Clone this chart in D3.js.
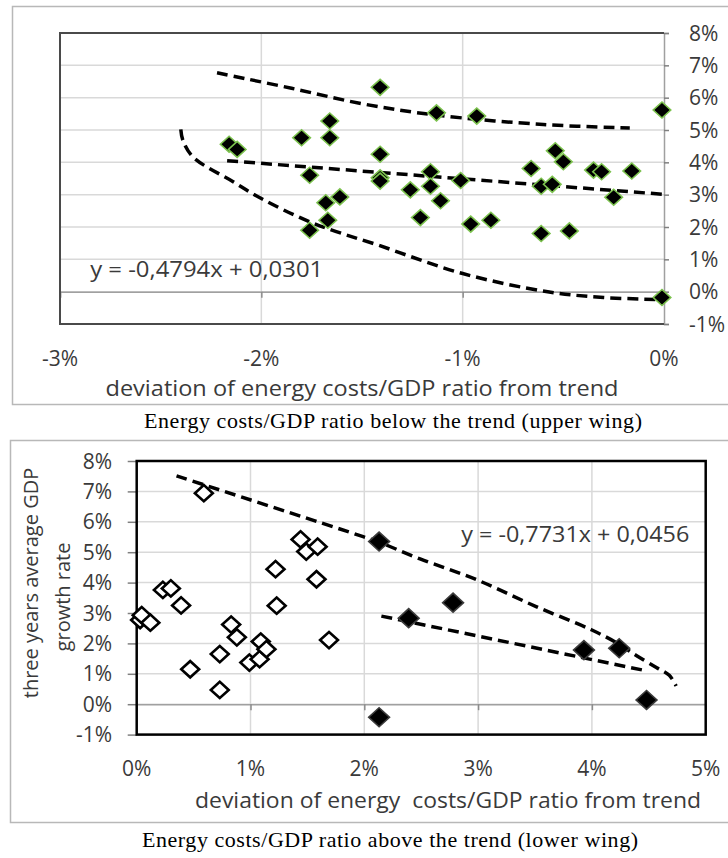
<!DOCTYPE html>
<html>
<head>
<meta charset="utf-8">
<script src="https://cdn.jsdelivr.net/npm/d3@7"></script>
<style>
  body { margin: 0; background: #fff; }
  svg text { font-family: "Open Sans", "Lato", sans-serif; fill: #3a3a3a; }
  svg text.caption { font-family: "Liberation Serif", "Times New Roman", serif; fill: #000; font-weight: normal; }
</style>
</head>
<body>
<svg id="chart" width="728" height="858"></svg>
<script>
var d3;

/* ===== DATA (all values in %) ===== */

// upper wing: energy costs/GDP ratio below trend
var upperDevX = [-2.16, -2.12, -1.80, -1.66, -1.66, -1.76, -1.61, -1.68, -1.67, -1.76,
                 -1.41, -1.13, -0.93, -0.01, -1.41, -1.41, -1.41, -1.26, -1.16, -1.16,
                 -1.11, -1.21, -1.01, -0.96, -0.86, -0.66, -0.61, -0.555, -0.54, -0.50,
                 -0.35, -0.31, -0.16, -0.25, -0.61, -0.47, -0.01];
var upperGrowth = [4.56, 4.40, 4.76, 5.28, 4.76, 3.60, 2.93, 2.75, 2.21, 1.90,
                   6.32, 5.53, 5.43, 5.62, 4.25, 3.52, 3.42, 3.15, 3.71, 3.26,
                   2.81, 2.29, 3.44, 2.09, 2.21, 3.81, 3.26, 3.32, 4.36, 4.02,
                   3.76, 3.71, 3.73, 2.92, 1.80, 1.88, -0.18];

// envelope curves drawn by hand over the upper wing
var upperHighX = [-2.22, -1.85, -1.49, -1.13, -0.60, -0.17];
var upperHighY = [6.77, 6.29, 5.80, 5.46, 5.17, 5.06];
var upperLowX = [-2.40, -2.39, -2.34, -2.14, -2.00, -1.74, -1.42, -1.00, -0.57, -0.30, -0.04];
var upperLowY = [5.02, 4.69, 4.17, 3.40, 2.88, 2.11, 1.44, 0.56, -0.01, -0.18, -0.24];

// linear trend y = a*x + b (fractions), and its x range in %
var upperTrend = [-0.4794, 0.0301];
var upperTrendRange = [-2.17, 0];

// lower wing: energy costs/GDP ratio above trend
var lowerOpenX = [0.03, 0.044, 0.12, 0.23, 0.30, 0.39, 0.47, 0.59, 0.73, 0.73, 0.83, 0.88,
                  0.99, 1.08, 1.09, 1.14, 1.22, 1.23, 1.44, 1.49, 1.59, 1.58, 1.69];
var lowerOpenY = [2.77, 2.93, 2.68, 3.76, 3.81, 3.25, 1.15, 6.94, 1.65, 0.47, 2.62, 2.20,
                  1.37, 1.48, 2.06, 1.81, 4.44, 3.24, 5.42, 5.02, 5.18, 4.11, 2.11];
var lowerFilledX = [2.13, 2.39, 2.78, 3.93, 4.24, 4.48, 2.13];
var lowerFilledY = [5.35, 2.83, 3.34, 1.78, 1.84, 0.14, -0.43];

var lowerEnvX = [0.35, 1.99, 2.13, 2.49, 2.99, 3.51, 4.00, 4.24, 4.39, 4.57, 4.68, 4.74];
var lowerEnvY = [7.51, 5.51, 5.33, 4.78, 4.09, 3.21, 2.44, 1.97, 1.60, 1.20, 0.95, 0.60];

var lowerTrend = [-0.7731, 0.0456];
var lowerTrendRange = [2.15, 4.48];

// ticks
var growthTicks = [-1, 0, 1, 2, 3, 4, 5, 6, 7, 8];
var upperXTicks = [-3, -2, -1, 0];
var lowerXTicks = [0, 1, 2, 3, 4, 5];

var upperEquation = "y = -0,4794x + 0,0301";
var lowerEquation = "y = -0,7731x + 0,0456";
var xTitleUpper = "deviation of energy costs/GDP ratio from trend";
var xTitleLower = "deviation of energy  costs/GDP ratio from trend";
var yTitleLower = ["three years average GDP", "growth rate"];
var captionUpper = "Energy costs/GDP ratio below the trend (upper wing)";
var captionLower = "Energy costs/GDP ratio above the trend (lower wing)";

/* ===== SET UP ===== */

var svg = d3.select('#chart');
var pct = function(d) { return d + '%'; };
var diamond = d3.symbol().type(d3.symbolSquare);

function toPoints(xs, ys) {
  return xs.map(function(x, i) { return [x, ys[i]]; });
}

function trendPoints(coef, range) {
  return range.map(function(x) { return [x, coef[0] * x + coef[1] * 100]; });
}

function drawPanel(p) {
  var x = d3.scaleLinear().domain(p.xDomain).range([p.left, p.right]);
  var y = d3.scaleLinear().domain([-1, 8]).range([p.bottom, p.top]);
  var g = svg.append('g');

  // outer frame
  g.append('rect')
    .attr('x', p.frame[0] + 0.5).attr('y', p.frame[1] + 0.5)
    .attr('width', p.frame[2]).attr('height', p.frame[3])
    .attr('fill', 'none').attr('stroke', '#b8b8b8').attr('stroke-width', 1.5);

  // gridlines
  g.append('g').selectAll('line')
    .data(growthTicks)
    .enter().append('line')
    .attr('x1', p.left).attr('x2', p.right)
    .attr('y1', function(d) { return y(d); }).attr('y2', function(d) { return y(d); })
    .attr('stroke', '#d9d9d9').attr('stroke-width', 1.5);

  g.append('g').selectAll('line')
    .data(p.xTicks.slice(1, -1))
    .enter().append('line')
    .attr('x1', function(d) { return x(d); }).attr('x2', function(d) { return x(d); })
    .attr('y1', p.top).attr('y2', p.bottom)
    .attr('stroke', '#d9d9d9').attr('stroke-width', 1.5);

  // x axis crossing at 0%
  var xAxis = d3.axisBottom(x).tickValues(p.xTicks).tickSize(6).tickFormat('');
  var xa = g.append('g')
    .attr('transform', 'translate(0,' + y(0) + ')')
    .call(xAxis);
  xa.select('.domain').attr('stroke', '#a0a0a0').attr('stroke-width', 1.5);
  xa.selectAll('.tick line').attr('stroke', '#8c8c8c').attr('stroke-width', 1.5);

  // y axis
  var yAxis = (p.yRight ? d3.axisRight(y) : d3.axisLeft(y))
    .tickValues(growthTicks).tickSize(p.yRight ? 5 : 9).tickFormat('');
  var ya = g.append('g')
    .attr('transform', 'translate(' + (p.yRight ? p.right : p.left) + ',0)')
    .call(yAxis);
  ya.select('.domain').attr('stroke', p.yRight ? '#a0a0a0' : 'none').attr('stroke-width', 1.5);
  ya.selectAll('.tick line').attr('stroke', '#808080').attr('stroke-width', 1.5);

  // plot border
  if (p.yRight) {
    g.append('path')
      .attr('d', 'M' + p.right + ',' + p.top + 'H' + p.left + 'V' + p.bottom + 'H' + p.right)
      .attr('fill', 'none').attr('stroke', '#4a4a4a').attr('stroke-width', 2);
  } else {
    g.append('rect')
      .attr('x', p.left).attr('y', p.top)
      .attr('width', p.right - p.left).attr('height', p.bottom - p.top)
      .attr('fill', 'none').attr('stroke', '#000').attr('stroke-width', 2.5);
  }

  // tick labels
  g.append('g').selectAll('text')
    .data(growthTicks)
    .enter().append('text')
    .attr('x', p.yLabelX)
    .attr('y', function(d) { return y(d); })
    .attr('dy', '0.36em')
    .attr('text-anchor', p.yRight ? 'start' : 'end')
    .style('font-size', p.fontSize + 'px')
    .text(pct);

  g.append('g').selectAll('text')
    .data(p.xTicks)
    .enter().append('text')
    .attr('x', function(d) { return x(d); })
    .attr('y', p.xLabelY)
    .attr('text-anchor', 'middle')
    .style('font-size', p.fontSize + 'px')
    .text(pct);

  // axis title
  g.append('text')
    .attr('x', p.xTitle[0]).attr('y', p.xTitle[1])
    .attr('text-anchor', 'middle')
    .attr('textLength', p.xTitle[2]).attr('lengthAdjust', 'spacingAndGlyphs')
    .style('font-size', p.fontSize + 'px')
    .style('white-space', 'pre')
    .text(p.xTitleText);

  // equation
  g.append('text')
    .attr('x', x(p.eqAt[0])).attr('y', y(p.eqAt[1]))
    .attr('textLength', p.eqAt[2]).attr('lengthAdjust', 'spacingAndGlyphs')
    .style('font-size', p.fontSize + 'px')
    .text(p.eqText);

  // dashed curves
  var line = d3.line()
    .x(function(d) { return x(d[0]); })
    .y(function(d) { return y(d[1]); });

  p.curves.forEach(function(c) {
    g.append('path')
      .attr('d', line.curve(d3.curveCatmullRom.alpha(0.5))(c))
      .attr('fill', 'none').attr('stroke', '#000')
      .attr('stroke-width', 3.5).attr('stroke-dasharray', '11,6');
  });

  g.append('path')
    .attr('d', line.curve(d3.curveLinear)(p.trend))
    .attr('fill', 'none').attr('stroke', '#000')
    .attr('stroke-width', 3.5).attr('stroke-dasharray', '11,6');

  // markers
  p.markers.forEach(function(m) {
    g.append('g').selectAll('path')
      .data(m.points)
      .enter().append('path')
      .attr('d', diamond.size(m.size)())
      .attr('transform', function(d) {
        return 'translate(' + x(d[0]) + ',' + y(d[1]) + ') scale(1.1,1) rotate(45)';
      })
      .attr('fill', m.fill)
      .attr('stroke', m.stroke)
      .attr('stroke-width', m.strokeWidth);
  });

  // caption
  svg.append('text')
    .attr('class', 'caption')
    .attr('x', p.caption[0]).attr('y', p.caption[1])
    .attr('text-anchor', 'middle')
    .attr('textLength', p.caption[2]).attr('lengthAdjust', 'spacing')
    .style('font-size', '22px')
    .text(p.captionText);

  return g;
}

/* ===== UPPER WING ===== */
drawPanel({
  frame: [12, 6, 720, 398],
  left: 60, right: 664, top: 33, bottom: 324,
  xDomain: [-3, 0], xTicks: upperXTicks,
  yRight: true, yLabelX: 689, xLabelY: 366,
  fontSize: 21,
  xTitle: [362, 396, 513], xTitleText: xTitleUpper,
  eqAt: [-2.85, 0.45, 233], eqText: upperEquation,
  curves: [toPoints(upperHighX, upperHighY), toPoints(upperLowX, upperLowY)],
  trend: trendPoints(upperTrend, upperTrendRange),
  markers: [{points: toPoints(upperDevX, upperGrowth), size: 128,
             fill: '#000', stroke: '#7cc24e', strokeWidth: 1.5}],
  caption: [393, 428, 498], captionText: captionUpper
});

/* ===== LOWER WING ===== */
var lower = drawPanel({
  frame: [10, 440, 722, 382],
  left: 136.7, right: 705.7, top: 461, bottom: 734.6,
  xDomain: [0, 5], xTicks: lowerXTicks,
  yRight: false, yLabelX: 112, xLabelY: 776,
  fontSize: 21,
  xTitle: [448, 808, 506], xTitleText: xTitleLower,
  eqAt: [2.852, 5.33, 228], eqText: lowerEquation,
  curves: [toPoints(lowerEnvX, lowerEnvY)],
  trend: trendPoints(lowerTrend, lowerTrendRange),
  markers: [{points: toPoints(lowerOpenX, lowerOpenY), size: 132,
             fill: '#fff', stroke: '#000', strokeWidth: 2.5},
            {points: toPoints(lowerFilledX, lowerFilledY), size: 180,
             fill: '#000', stroke: '#3c3c3c', strokeWidth: 1.5}],
  caption: [390, 847, 496], captionText: captionLower
});

// y title of lower wing, two lines rotated
lower.append('g')
  .selectAll('text')
  .data(yTitleLower)
  .enter().append('text')
  .attr('transform', function(d, i) {
    return 'translate(' + (i === 0 ? 38 : 70) + ',' + (i === 0 ? 583 : 597) + ') rotate(-90)';
  })
  .attr('text-anchor', 'middle')
  .style('font-size', '20px')
  .text(function(d) { return d; });
</script>
</body>
</html>
